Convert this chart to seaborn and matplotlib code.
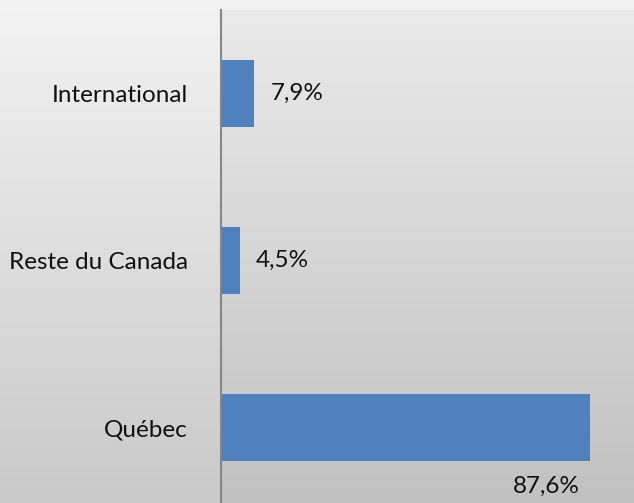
import numpy as np
import pandas as pd
import seaborn as sns
import matplotlib.pyplot as plt

categories = ["International", "Reste du Canada", "Québec"]
values = [7.9, 4.5, 87.6]
value_labels = ["7,9%", "4,5%", "87,6%"]


def main():
    sns.set_theme(style="white")
    plt.rcParams["font.family"] = ["Lato", "DejaVu Sans"]

    df = pd.DataFrame({"region": categories, "share": values})

    fig = plt.figure(figsize=(6.34, 5.03), dpi=100)

    # background gradient over the whole figure
    bg = fig.add_axes([0, 0, 1, 1], zorder=-2)
    grad = np.linspace(0, 1, 256).reshape(-1, 1)
    bg.imshow(grad, aspect="auto", cmap=sns.blend_palette(["#f3f3f3", "#c9c9c9"], as_cmap=True),
              extent=[0, 1, 0, 1], origin="upper")
    bg.axis("off")

    ax = fig.add_axes([221 / 634, 0, 1 - 221 / 634, 493 / 503])
    ax.patch.set_alpha(0)
    ax.imshow(grad, aspect="auto", cmap=sns.blend_palette(["#eaeaea", "#c1c1c1"], as_cmap=True),
              extent=[0, 1, 0, 1], origin="upper", transform=ax.transAxes, zorder=0)

    sns.barplot(data=df, x="share", y="region", color="#4f81bd", width=0.4,
                saturation=1, linewidth=0, ax=ax, zorder=2)

    ax.set_xlim(0, 98.05)
    ax.set_ylim(2.452, -0.5)
    ax.set_xlabel("")
    ax.set_ylabel("")
    ax.set_xticks([])
    ax.tick_params(axis="y", length=0, pad=24, labelsize=17.5, labelcolor="#111111")

    for side in ["top", "right", "bottom"]:
        ax.spines[side].set_visible(False)
    ax.spines["left"].set_color("#868686")
    ax.spines["left"].set_linewidth(1.5)
    ax.spines["left"].set_zorder(3)

    for i, (v, lab) in enumerate(zip(values, value_labels)):
        if v > 50:
            ax.annotate(lab, (v, i), xytext=(-10, -59), textcoords="offset pixels",
                        ha="right", va="center", fontsize=17.5, color="#111111")
        else:
            ax.annotate(lab, (v, i), xytext=(16, 0), textcoords="offset pixels",
                        ha="left", va="center", fontsize=17.5, color="#111111")

    plt.savefig("out.png", dpi=100)


if __name__ == "__main__":
    main()
